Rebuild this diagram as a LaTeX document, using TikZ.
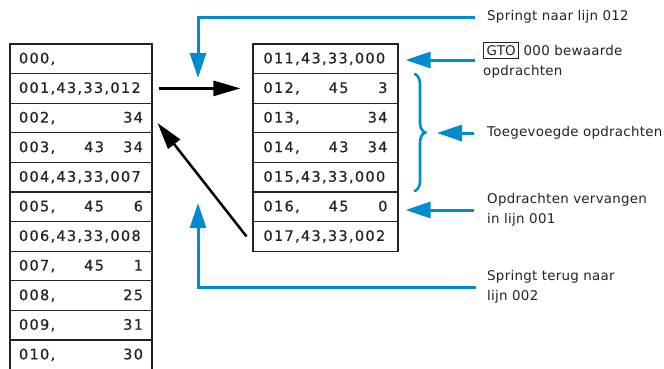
\documentclass[tikz,border=0pt]{standalone}
\usepackage{fontspec}
\setmainfont{DejaVu Sans}
\newfontfamily\cellfont[LetterSpace=9,FakeBold=0.5]{DejaVu Sans}
\newfontfamily\notefont[LetterSpace=2]{DejaVu Sans}
\usetikzlibrary{arrows.meta,decorations.pathreplacing,calc}

\definecolor{jumpblue}{RGB}{0,140,206}
\definecolor{ink}{RGB}{35,35,35}

% one program line: address, middle field, last field
\newcommand\progline[3]{\hbox to 124pt{\rlap{#1}\hskip85pt\llap{#2}\hfill#3}}
\newcommand\fullline[1]{\hbox to 124pt{#1\hss}}

\tikzset{
  cellL/.style={draw=ink, line width=1.1pt, minimum width=142pt, minimum height=29.6pt,
    inner sep=0pt, text=ink, font=\cellfont\fontsize{14.5}{16}\selectfont},
  cellR/.style={cellL, minimum width=145pt},
  note/.style={anchor=west, inner sep=0pt, align=left, text=ink,
    font=\notefont\fontsize{13.4}{19.5}\selectfont},
  bluearrow/.style={draw=jumpblue, line width=3pt,
    -{Triangle[length=25pt,width=16pt]}},
  blackarrow/.style={draw=black, line width=2.5pt,
    -{Triangle[length=27pt,width=15pt]}},
}

\begin{document}
\begin{tikzpicture}[x=1pt,y=-1pt]
\useasboundingbox (0,0) rectangle (664,368);

% ---- main program (left column) ----
\foreach \i/\txt in {
  0/{\progline{000,}{}{}},
  1/{\fullline{001,43,33,012}},
  2/{\progline{002,}{}{34}},
  3/{\progline{003,}{43}{34}},
  4/{\fullline{004,43,33,007}},
  5/{\progline{005,}{45}{6}},
  6/{\fullline{006,43,33,008}},
  7/{\progline{007,}{45}{1}},
  8/{\progline{008,}{}{25}},
  9/{\progline{009,}{}{31}},
  10/{\progline{010,}{}{30}}}
  \node[cellL] (l\i) at (81, 44+29.6*\i+14.8) {\txt};

% ---- inserted instructions (right column) ----
\foreach \i/\txt in {
  0/{\fullline{011,43,33,000}},
  1/{\progline{012,}{45}{3}},
  2/{\progline{013,}{}{34}},
  3/{\progline{014,}{43}{34}},
  4/{\fullline{015,43,33,000}},
  5/{\progline{016,}{45}{0}},
  6/{\fullline{017,43,33,002}}}
  \node[cellR] (r\i) at (325.5, 44+29.6*\i+14.8) {\txt};

% ---- explanations ----
\node[note] (n1) at (487,17) {Springt naar lijn 012};
\node[note] (n2) at (483,60) {{\setlength\fboxsep{2.4pt}\setlength\fboxrule{1pt}\fbox{GTO}} 000 bewaarde\\opdrachten};
\node[note] (n3) at (487,133) {Toegevoegde opdrachten};
\node[note] (n4) at (487,210) {Opdrachten vervangen\\in lijn 001};
\node[note] (n5) at (487,287) {Springt terug naar\\lijn 002};

% ---- jumps ----
\draw[blackarrow, shorten <=6pt, shorten >=12pt] (l1.east) -- (r1.west);
\draw[blackarrow] ($(r6.west)+(-6,0)$) -- ($(l2.east)+(5,5)$);

\coordinate (jtop) at (198,78);
\coordinate (jbot) at (198,203);
\coordinate (btip) at (425,133);

\draw[bluearrow] ([xshift=-12pt]n1.west) -| (jtop);
\draw[bluearrow, shorten >=7pt] ([xshift=-8pt]n2.west) -- (n2.west -| r0.east);
\draw[bluearrow, shorten >=12pt] ([xshift=-13pt]n3.west) -- (btip);
\draw[bluearrow, shorten >=7pt] ([xshift=-13pt]n4.west) -- (n4.west -| r5.east);
\draw[bluearrow] ([xshift=-11pt]n5.west) -| (jbot);

% brace over the added lines 012..015
\draw[jumpblue, line width=2.6pt, line cap=round,
  decorate, decoration={brace, amplitude=10pt}] (415,74) -- (415,191);
\end{tikzpicture}
\end{document}
